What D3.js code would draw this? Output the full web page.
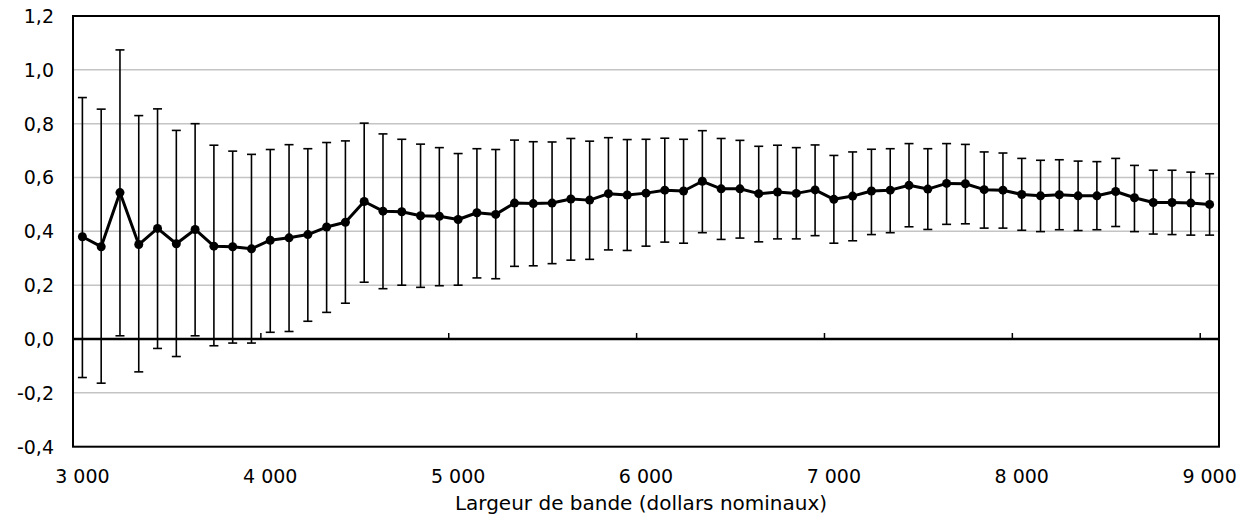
<!DOCTYPE html>
<html>
<head>
<meta charset="utf-8">
<script src="https://cdn.jsdelivr.net/npm/d3@7"></script>
<style>
  body { margin: 0; background: #fff; }
  svg text { font-family: Verdana, "DejaVu Sans", sans-serif; fill: #000; }
</style>
</head>
<body>
<svg id="chart" width="1248" height="514"></svg>
<script>
// bandwidth categories (nominal dollars)
const bandwidths = [3000,3100,3200,3300,3400,3500,3600,3700,3800,3900,
  4000,4100,4200,4300,4400,4500,4600,4700,4800,4900,
  5000,5100,5200,5300,5400,5500,5600,5700,5800,5900,
  6000,6100,6200,6300,6400,6500,6600,6700,6800,6900,
  7000,7100,7200,7300,7400,7500,7600,7700,7800,7900,
  8000,8100,8200,8300,8400,8500,8600,8700,8800,8900,9000]

// point estimates
const estimate = [0.380,0.343,0.544,0.351,0.411,0.354,0.407,0.345,0.343,0.335,
  0.367,0.376,0.388,0.416,0.434,0.511,0.475,0.473,0.458,0.456,
  0.444,0.469,0.463,0.505,0.503,0.505,0.520,0.516,0.540,0.535,
  0.542,0.553,0.550,0.586,0.558,0.558,0.540,0.546,0.541,0.554,
  0.519,0.531,0.550,0.553,0.571,0.557,0.578,0.577,0.555,0.553,
  0.537,0.532,0.536,0.532,0.532,0.548,0.525,0.507,0.507,0.505,0.500]

// confidence interval bounds
const upper = [0.897,0.854,1.074,0.830,0.855,0.775,0.800,0.720,0.698,0.686,
  0.704,0.722,0.707,0.730,0.736,0.802,0.762,0.742,0.724,0.711,
  0.689,0.707,0.704,0.739,0.733,0.732,0.745,0.735,0.748,0.741,
  0.742,0.746,0.742,0.774,0.745,0.738,0.716,0.720,0.711,0.721,
  0.682,0.695,0.705,0.707,0.726,0.707,0.726,0.723,0.695,0.691,
  0.671,0.664,0.666,0.661,0.659,0.671,0.645,0.627,0.627,0.620,0.614]

const lower = [-0.143,-0.164,0.012,-0.122,-0.035,-0.065,0.012,-0.025,-0.015,-0.015,
  0.025,0.028,0.066,0.099,0.133,0.211,0.187,0.200,0.192,0.198,
  0.200,0.227,0.224,0.270,0.272,0.280,0.293,0.296,0.331,0.329,
  0.345,0.360,0.356,0.395,0.370,0.375,0.361,0.372,0.372,0.384,
  0.356,0.365,0.388,0.395,0.417,0.407,0.426,0.428,0.412,0.412,
  0.404,0.399,0.406,0.403,0.406,0.418,0.399,0.390,0.388,0.386,0.386]

const yTicks = [-0.4,-0.2,0,0.2,0.4,0.6,0.8,1.0,1.2]
const xLabelled = [3000,4000,5000,6000,7000,8000,9000]
const xTitle = "Largeur de bande (dollars nominaux)"

const data = bandwidths.map((b, i) => ({b, v: estimate[i], hi: upper[i], lo: lower[i]}))

const svg = d3.select("#chart")
const plotLeft = 73, plotRight = 1219, plotTop = 16, plotBottom = 446.7

const x = d3.scaleBand().domain(bandwidths).range([plotLeft, plotRight])
const y = d3.scaleLinear().domain([-0.4, 1.2]).range([plotBottom, plotTop])
const cx = b => x(b) + x.bandwidth() / 2

const fmt = v => d3.format(".1f")(v).replace(".", ",").replace("−", "-")
const fmtX = v => d3.format(",")(v).replace(",", " ")

// gridlines
svg.append("g")
  .selectAll("line")
  .data(yTicks.filter(t => t !== 0 && t !== -0.4 && t !== 1.2))
  .join("line")
    .attr("x1", plotLeft).attr("x2", plotRight)
    .attr("y1", d => y(d)).attr("y2", d => y(d))
    .attr("stroke", "#c4c4c4")
    .attr("stroke-width", 1.5)

// y labels
svg.append("g")
  .selectAll("text")
  .data(yTicks)
  .join("text")
    .attr("x", 54)
    .attr("y", d => y(d))
    .attr("dy", "0.36em")
    .attr("text-anchor", "end")
    .attr("font-size", "19px")
    .text(d => fmt(d))

// error bars
const eb = svg.append("g").attr("stroke", "#000").attr("stroke-width", 1.6)
eb.selectAll("line.v")
  .data(data)
  .join("line")
    .attr("class", "v")
    .attr("x1", d => cx(d.b)).attr("x2", d => cx(d.b))
    .attr("y1", d => y(d.lo)).attr("y2", d => y(d.hi))
eb.selectAll("line.hi")
  .data(data)
  .join("line")
    .attr("class", "hi")
    .attr("x1", d => cx(d.b) - 4.5).attr("x2", d => cx(d.b) + 4.5)
    .attr("y1", d => y(d.hi)).attr("y2", d => y(d.hi))
eb.selectAll("line.lo")
  .data(data)
  .join("line")
    .attr("class", "lo")
    .attr("x1", d => cx(d.b) - 4.5).attr("x2", d => cx(d.b) + 4.5)
    .attr("y1", d => y(d.lo)).attr("y2", d => y(d.lo))

// zero axis line and tick marks
svg.append("line")
  .attr("x1", plotLeft).attr("x2", plotRight)
  .attr("y1", y(0)).attr("y2", y(0))
  .attr("stroke", "#000").attr("stroke-width", 2.5)

svg.append("g")
  .selectAll("line")
  .data(xLabelled.slice(1))
  .join("line")
    .attr("x1", d => x(d)).attr("x2", d => x(d))
    .attr("y1", y(0)).attr("y2", y(0) - 6)
    .attr("stroke", "#000").attr("stroke-width", 1.5)

// series line + markers
svg.append("path")
  .datum(data)
  .attr("fill", "none")
  .attr("stroke", "#000")
  .attr("stroke-width", 3)
  .attr("stroke-linejoin", "round")
  .attr("d", d3.line().x(d => cx(d.b)).y(d => y(d.v)))

svg.append("g")
  .selectAll("circle")
  .data(data)
  .join("circle")
    .attr("cx", d => cx(d.b))
    .attr("cy", d => y(d.v))
    .attr("r", 4.5)
    .attr("fill", "#000")

// plot border
svg.append("rect")
  .attr("x", plotLeft).attr("y", plotTop)
  .attr("width", plotRight - plotLeft).attr("height", plotBottom - plotTop)
  .attr("fill", "none")
  .attr("stroke", "#000")
  .attr("stroke-width", 2)

// x labels
svg.append("g")
  .selectAll("text")
  .data(xLabelled)
  .join("text")
    .attr("x", d => cx(d))
    .attr("y", 482.5)
    .attr("text-anchor", "middle")
    .attr("font-size", "19px")
    .text(d => fmtX(d))

svg.append("text")
  .attr("x", 641)
  .attr("y", 510)
  .attr("text-anchor", "middle")
  .attr("font-size", "20px")
  .text(xTitle)
</script>
</body>
</html>
